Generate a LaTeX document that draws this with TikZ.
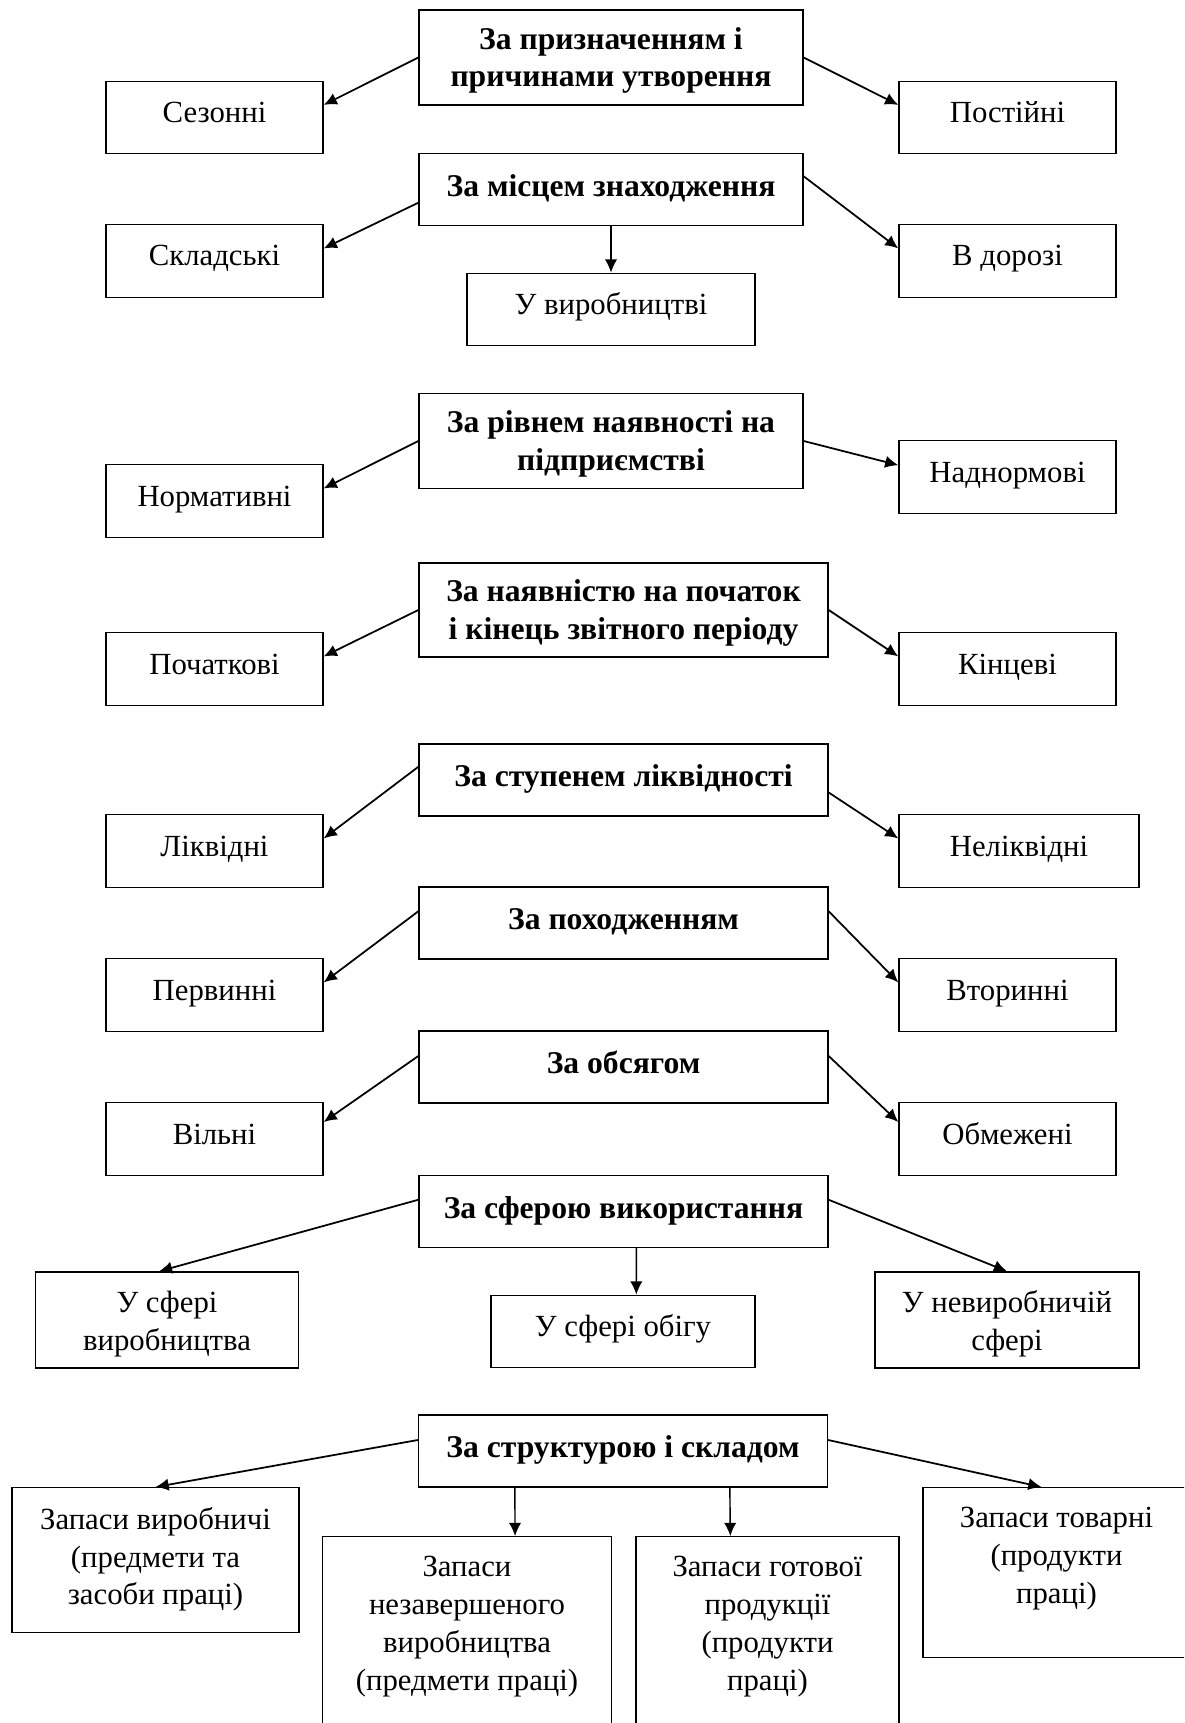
\documentclass[tikz,border=0pt]{standalone}
\usepackage{fontspec}
\setmainfont{Liberation Serif}
\usetikzlibrary{arrows.meta,calc}

\begin{document}
\begin{tikzpicture}[x=0.02cm, y=-0.02cm, >={Latex[length=7.5pt,width=7pt]},
  every node/.style={font=\fontsize{17.5}{21.5}\selectfont},
  box/.style={draw, line width=0.8pt, inner sep=0pt, align=center},
  one/.style={text height=0.45cm, text depth=0.25cm},
  head/.style={box, font=\fontsize{18}{21.5}\selectfont\bfseries, minimum width=7.68cm, minimum height=1.44cm},
  widehead/.style={head, minimum width=8.18cm},
  headone/.style={text height=0.45cm, text depth=0.18cm},
  side/.style={box, minimum width=4.34cm, minimum height=1.45cm},
  tall/.style={box, anchor=north},
  toptext/.style={anchor=north, yshift=-0.4cm, inner sep=0pt, align=center},
  arr/.style={->, line width=1pt},
  darr/.style={->, line width=0.8pt}]

  \useasboundingbox (0,0) rectangle (1184,1723);
  \clip (0,0) rectangle (1184,1723);

  % Nodes
  \node[head, minimum height=1.9cm] (prizn) at (611,57.5) {\rule{0pt}{0.56cm}За призначенням і\\причинами утворення};
  \node[side, one] (sezon) at (214.5,117.5) {Сезонні};
  \node[side, one] (postiin) at (1007.5,117.5) {Постійні};

  \node[head, headone] (misce) at (611,189.5) {За місцем знаходження};
  \node[side, one] (sklad) at (214.5,261) {Складські};
  \node[side, one] (doroga) at (1007.5,261) {В дорозі};
  \node[side, one, minimum width=5.76cm] (vyrob) at (611,309.5) {У виробництві};

  \node[head, minimum height=1.9cm] (riven) at (611,441) {\rule{0pt}{0.56cm}За рівнем наявності на\\підприємстві};
  \node[side, one] (norm) at (214.5,501) {Нормативні};
  \node[side, one] (nadnorm) at (1007.5,477) {Наднормові};

  \node[widehead, minimum height=1.88cm] (nayavn) at (623.5,610) {\rule{0pt}{0.56cm}За наявністю на початок\\і кінець звітного періоду};
  \node[side, one] (poch) at (214.5,669) {Початкові};
  \node[side, one] (kinc) at (1007.5,669) {Кінцеві};

  \node[widehead, headone] (likvid) at (623.5,780) {За ступенем ліквідності};
  \node[side, one] (likv) at (214.5,851) {Ліквідні};
  \node[side, one, minimum width=4.8cm] (nelikv) at (1019,851) {Неліквідні};

  \node[widehead, headone] (pohod) at (623.5,923) {За походженням};
  \node[side, one] (perv) at (214.5,995) {Первинні};
  \node[side, one] (vtor) at (1007.5,995) {Вторинні};

  \node[widehead, headone] (obsyag) at (623.5,1067) {За обсягом};
  \node[side, one] (vilni) at (214.5,1139) {Вільні};
  \node[side, one] (obmezh) at (1007.5,1139) {Обмежені};

  \node[widehead, headone] (sfera) at (623.5,1211.5) {За сферою використання};
  \node[side, minimum width=5.27cm, minimum height=1.92cm] (svyrob) at (167,1320) {\rule{0pt}{0.59cm}У сфері\\виробництва};
  \node[side, one, minimum width=5.28cm] (sobig) at (623,1331.5) {У сфері обігу};
  \node[side, minimum width=5.28cm, minimum height=1.92cm] (snevyr) at (1007,1320) {\rule{0pt}{0.59cm}У невиробничій\\сфері};

  % Lower nodes
  \node[widehead, headone] (strukt) at (623,1451) {За структурою і складом};
  \node[tall, minimum width=5.74cm, minimum height=2.9cm,
    label={[toptext]north:{Запаси виробничі\\(предмети та\\засоби праці)}}] (zvyrob) at (155.5,1487) {};
  \node[tall, minimum width=5.77cm, minimum height=4.2cm,
    label={[toptext]north:{Запаси\\незавершеного\\виробництва\\(предмети праці)}}] (znezav) at (467,1536) {};
  \node[tall, minimum width=5.26cm, minimum height=4.2cm,
    label={[toptext]north:{Запаси готової\\продукції\\(продукти\\праці)}}] (zgotov) at (767.5,1536) {};
  \node[tall, minimum width=5.34cm, minimum height=3.4cm,
    label={[toptext]north:{Запаси товарні\\(продукти\\праці)}}] (ztovar) at (1056.5,1487) {};

  % Arrows to the sides
  \draw[arr] (prizn.west) to ($(sezon.north east)!.33!(sezon.south east)$);
  \draw[arr] (prizn.east) to ($(postiin.north west)!.33!(postiin.south west)$);
  \draw[arr] ($(misce.north west)!.68!(misce.south west)$) to ($(sklad.north east)!.33!(sklad.south east)$);
  \draw[arr] ($(misce.north east)!.32!(misce.south east)$) to ($(doroga.north west)!.33!(doroga.south west)$);
  \draw[arr] (riven.west) to ($(norm.north east)!.33!(norm.south east)$);
  \draw[arr] (riven.east) to ($(nadnorm.north west)!.34!(nadnorm.south west)$);
  \draw[arr] (nayavn.west) to ($(poch.north east)!.33!(poch.south east)$);
  \draw[arr] (nayavn.east) to ($(kinc.north west)!.33!(kinc.south west)$);
  \draw[arr] ($(likvid.north west)!.32!(likvid.south west)$) to ($(likv.north east)!.33!(likv.south east)$);
  \draw[arr] ($(likvid.north east)!.67!(likvid.south east)$) to ($(nelikv.north west)!.33!(nelikv.south west)$);
  \draw[arr] ($(pohod.north west)!.34!(pohod.south west)$) to ($(perv.north east)!.33!(perv.south east)$);
  \draw[arr] ($(pohod.north east)!.34!(pohod.south east)$) to ($(vtor.north west)!.33!(vtor.south west)$);
  \draw[arr] ($(obsyag.north west)!.35!(obsyag.south west)$) to ($(vilni.north east)!.27!(vilni.south east)$);
  \draw[arr] ($(obsyag.north east)!.35!(obsyag.south east)$) to ($(obmezh.north west)!.27!(obmezh.south west)$);
  \draw[arr] ($(sfera.north west)!.34!(sfera.south west)$) to ($(svyrob.north)+(-8,0)$);
  \draw[arr] ($(sfera.north east)!.34!(sfera.south east)$) to (snevyr.north);
  \draw[arr] ($(strukt.north west)!.35!(strukt.south west)$) to (zvyrob.north);
  \draw[arr] ($(strukt.north east)!.35!(strukt.south east)$) to ($(ztovar.north)+(-15,0)$);

  % Arrows going down
  \draw[darr] (misce.south) to (vyrob.north);
  \draw[darr] ($(sfera.south west)+(218,0)$) to ($(sobig.north west)+(146,0)$);
  \draw[darr] ($(strukt.south west)+(97,0)$) to ($(znezav.north west)+(193,0)$);
  \draw[darr] ($(strukt.south west)+(312,0)$) to ($(zgotov.north west)+(95,0)$);

\end{tikzpicture}
\end{document}
